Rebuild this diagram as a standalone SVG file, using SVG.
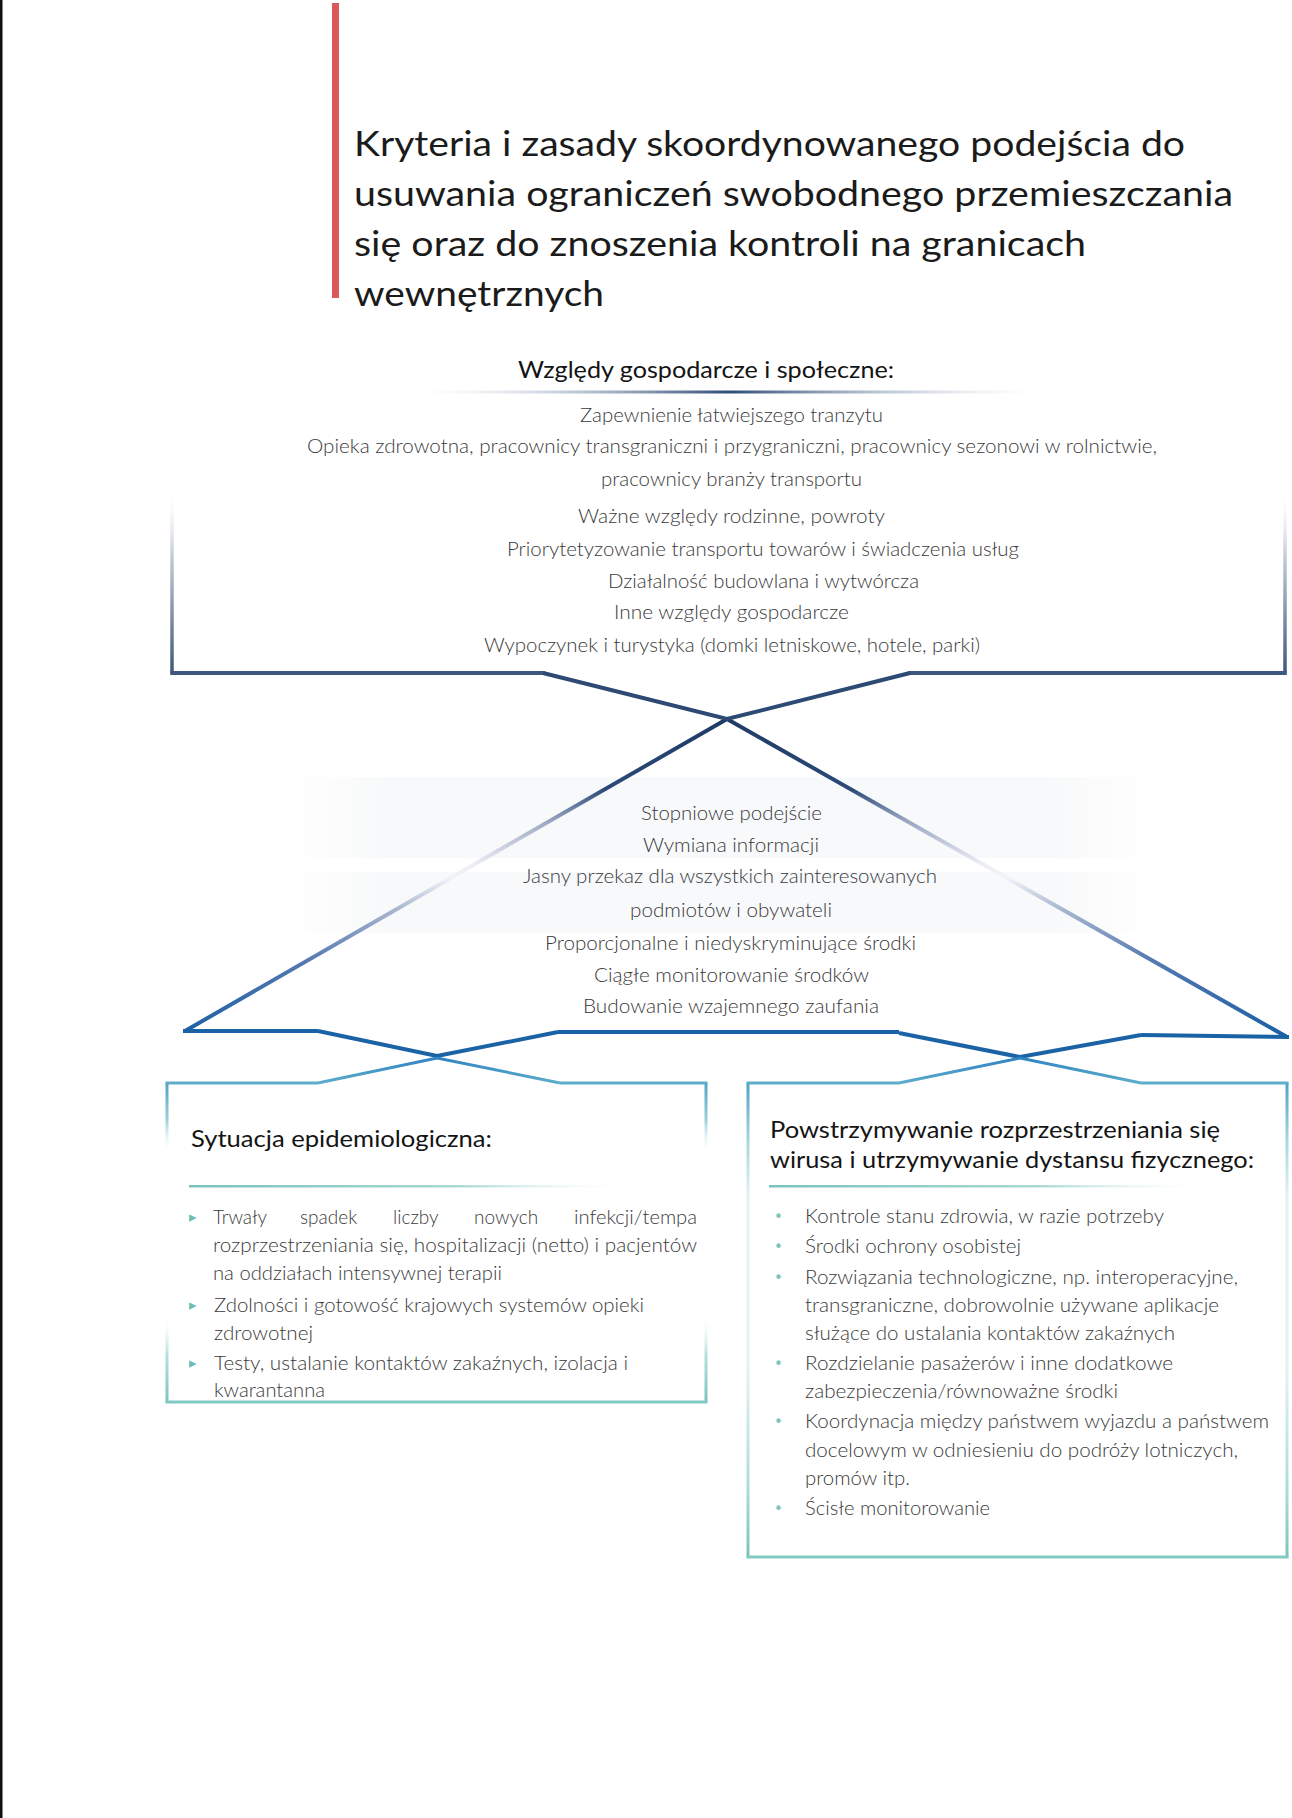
<svg xmlns="http://www.w3.org/2000/svg" width="1292" height="1818" viewBox="0 0 1292 1818">
<style>
.t{font-family:Lato,"Open Sans","Liberation Sans",sans-serif;}
.title{font-size:34px;fill:#1b1b1b;font-weight:400;}
.hd{font-size:23px;fill:#141414;font-weight:400;}
.bd{font-size:19px;fill:#3a3a3a;font-weight:300;}
.bl{font-size:19.5px;fill:#3a3a3a;font-weight:300;}
.tri{font-family:"DejaVu Sans",sans-serif;font-size:15px;fill:#6dbdb5;}
.dot{font-family:"DejaVu Sans",sans-serif;font-size:15px;fill:#7cc6bd;}
.o{fill:none;stroke-linejoin:miter;stroke-linecap:butt;}
</style>
<defs>
<linearGradient id="gTopSide" gradientUnits="userSpaceOnUse" x1="0" y1="486" x2="0" y2="674">
<stop offset="0" stop-color="#ffffff" stop-opacity="0"/>
<stop offset="0.35" stop-color="#c9d0dc"/>
<stop offset="1" stop-color="#3e5578"/>
</linearGradient>
<linearGradient id="gHead" gradientUnits="userSpaceOnUse" x1="424" y1="0" x2="1035" y2="0">
<stop offset="0" stop-color="#c8d0dc" stop-opacity="0"/>
<stop offset="0.5" stop-color="#2f4c77"/>
<stop offset="1" stop-color="#c8d0dc" stop-opacity="0"/>
</linearGradient>
<linearGradient id="gSlope" gradientUnits="userSpaceOnUse" x1="0" y1="719" x2="0" y2="1037">
<stop offset="0" stop-color="#1e3b66"/>
<stop offset="0.22" stop-color="#2c4a77"/>
<stop offset="0.32" stop-color="#9aa6c2"/>
<stop offset="0.46" stop-color="#eceff5"/>
<stop offset="0.5" stop-color="#f1f3f7"/>
<stop offset="0.6" stop-color="#a7b6cf"/>
<stop offset="0.76" stop-color="#5579b0"/>
<stop offset="1" stop-color="#1a5fa5"/>
</linearGradient>
<linearGradient id="gLowL" gradientUnits="userSpaceOnUse" x1="0" y1="1083" x2="0" y2="1403">
<stop offset="0" stop-color="#4fa3c6"/>
<stop offset="0.12" stop-color="#9fd2dc"/>
<stop offset="0.22" stop-color="#ffffff" stop-opacity="0"/>
<stop offset="0.72" stop-color="#ffffff" stop-opacity="0"/>
<stop offset="0.85" stop-color="#b4e0dc"/>
<stop offset="1" stop-color="#78c5be"/>
</linearGradient>
<linearGradient id="gLowR" gradientUnits="userSpaceOnUse" x1="0" y1="1083" x2="0" y2="1558">
<stop offset="0" stop-color="#4fa3c6"/>
<stop offset="0.12" stop-color="#a6d5de"/>
<stop offset="0.24" stop-color="#e4f2f3"/>
<stop offset="0.6" stop-color="#e4f2f3"/>
<stop offset="0.85" stop-color="#aedcd8"/>
<stop offset="1" stop-color="#78c5be"/>
</linearGradient>
<linearGradient id="gUnderL" gradientUnits="userSpaceOnUse" x1="189" y1="0" x2="638" y2="0">
<stop offset="0" stop-color="#78c3bd"/>
<stop offset="0.6" stop-color="#a9d9d5"/>
<stop offset="1" stop-color="#ffffff" stop-opacity="0"/>
</linearGradient>
<linearGradient id="gUnderR" gradientUnits="userSpaceOnUse" x1="769" y1="0" x2="1216" y2="0">
<stop offset="0" stop-color="#78c3bd"/>
<stop offset="0.6" stop-color="#a9d9d5"/>
<stop offset="1" stop-color="#ffffff" stop-opacity="0"/>
</linearGradient>
<linearGradient id="gBand" gradientUnits="userSpaceOnUse" x1="283" y1="0" x2="1158" y2="0">
<stop offset="0" stop-color="#f8f9fa" stop-opacity="0"/>
<stop offset="0.12" stop-color="#f8f9fa"/>
<stop offset="0.88" stop-color="#f8f9fa"/>
<stop offset="1" stop-color="#f8f9fa" stop-opacity="0"/>
</linearGradient>
<linearGradient id="gPeak" gradientUnits="userSpaceOnUse" x1="0" y1="1057" x2="0" y2="1084">
<stop offset="0" stop-color="#2f82c2"/>
<stop offset="1" stop-color="#5eaecb"/>
</linearGradient>
</defs>

<rect x="0" y="0" width="1292" height="1818" fill="#ffffff"/>
<rect x="0" y="0" width="2.5" height="1818" fill="#111111"/>

<g id="title">
<rect x="332" y="3" width="7" height="295" fill="#da5a5c"/>
<text class="t title" x="354" y="156" textLength="831" lengthAdjust="spacingAndGlyphs">Kryteria i zasady skoordynowanego podejścia do</text>
<text class="t title" x="354" y="206" textLength="879" lengthAdjust="spacingAndGlyphs">usuwania ograniczeń swobodnego przemieszczania</text>
<text class="t title" x="354" y="256" textLength="732" lengthAdjust="spacingAndGlyphs">się oraz do znoszenia kontroli na granicach</text>
<text class="t title" x="354" y="306" textLength="250" lengthAdjust="spacingAndGlyphs">wewnętrznych</text>
</g>

<g id="box-economic">
<path class="o" d="M172,486 V673" stroke="url(#gTopSide)" stroke-width="3.5"/>
<path class="o" d="M1285,486 V673" stroke="url(#gTopSide)" stroke-width="3.5"/>
<path class="o" d="M170.25,673 H545 M908,673 H1286.75" stroke="#3d5780" stroke-width="4"/>
<text class="t hd" x="518" y="378" textLength="376" lengthAdjust="spacingAndGlyphs">Względy gospodarcze i społeczne:</text>
<rect x="424" y="390.5" width="611" height="3" fill="url(#gHead)"/>
<text class="t bd" x="580" y="422" textLength="303" lengthAdjust="spacingAndGlyphs">Zapewnienie łatwiejszego tranzytu</text>
<text class="t bd" x="307" y="453" textLength="850" lengthAdjust="spacingAndGlyphs">Opieka zdrowotna, pracownicy transgraniczni i przygraniczni, pracownicy sezonowi w rolnictwie,</text>
<text class="t bd" x="601" y="486" textLength="261" lengthAdjust="spacingAndGlyphs">pracownicy branży transportu</text>
<text class="t bd" x="578" y="523" textLength="307" lengthAdjust="spacingAndGlyphs">Ważne względy rodzinne, powroty</text>
<text class="t bd" x="507" y="556" textLength="512" lengthAdjust="spacingAndGlyphs">Priorytetyzowanie transportu towarów i świadczenia usług</text>
<text class="t bd" x="608" y="588" textLength="311" lengthAdjust="spacingAndGlyphs">Działalność budowlana i wytwórcza</text>
<text class="t bd" x="614" y="619" textLength="235" lengthAdjust="spacingAndGlyphs">Inne względy gospodarcze</text>
<text class="t bd" x="484" y="652" textLength="496" lengthAdjust="spacingAndGlyphs">Wypoczynek i turystyka (domki letniskowe, hotele, parki)</text>
</g>

<g id="box-principles">
<rect x="283" y="777" width="875" height="81" fill="url(#gBand)"/>
<rect x="283" y="872" width="875" height="61" fill="url(#gBand)"/>
<path class="o" d="M727,719 L185,1031 M727,719 L1287,1037" stroke="url(#gSlope)" stroke-width="4"/>
<path class="o" d="M183,1031 H318 M558,1032 H899 M1141,1035 L1289,1037" stroke="#1a62a6" stroke-width="4"/>
<text class="t bl" x="641" y="820" textLength="181" lengthAdjust="spacingAndGlyphs">Stopniowe podejście</text>
<text class="t bl" x="643" y="852" textLength="176" lengthAdjust="spacingAndGlyphs">Wymiana informacji</text>
<text class="t bl" x="523" y="883" textLength="414" lengthAdjust="spacingAndGlyphs">Jasny przekaz dla wszystkich zainteresowanych</text>
<text class="t bl" x="630" y="917" textLength="202" lengthAdjust="spacingAndGlyphs">podmiotów i obywateli</text>
<text class="t bl" x="545" y="950" textLength="371" lengthAdjust="spacingAndGlyphs">Proporcjonalne i niedyskryminujące środki</text>
<text class="t bl" x="594" y="982" textLength="275" lengthAdjust="spacingAndGlyphs">Ciągłe monitorowanie środków</text>
<text class="t bl" x="583" y="1013" textLength="296" lengthAdjust="spacingAndGlyphs">Budowanie wzajemnego zaufania</text>
</g>

<g id="box-epidemiological">
<path class="o" d="M167,1083 V1402" stroke="url(#gLowL)" stroke-width="3"/>
<path class="o" d="M706,1083 V1402" stroke="url(#gLowL)" stroke-width="3"/>
<path class="o" d="M165.5,1083 H318 M560,1083 H707.5" stroke="#5eaecb" stroke-width="3"/>
<path class="o" d="M165.5,1402 H707.5" stroke="#80cac3" stroke-width="3"/>
<text class="t hd" x="191" y="1147" textLength="301" lengthAdjust="spacingAndGlyphs">Sytuacja epidemiologiczna:</text>
<rect x="189" y="1185" width="449" height="2.5" fill="url(#gUnderL)"/>
<text class="tri" x="189" y="1222">▸</text>
<text class="t bd" y="1224"><tspan x="213">Trwały</tspan><tspan x="300">spadek</tspan><tspan x="393">liczby</tspan><tspan x="474">nowych</tspan></text>
<text class="t bd" x="574" y="1224" textLength="123" lengthAdjust="spacingAndGlyphs">infekcji/tempa</text>
<text class="t bd" x="213" y="1252" textLength="484" lengthAdjust="spacingAndGlyphs">rozprzestrzeniania się, hospitalizacji (netto) i pacjentów</text>
<text class="t bd" x="213" y="1280" textLength="289" lengthAdjust="spacingAndGlyphs">na oddziałach intensywnej terapii</text>
<text class="tri" x="189" y="1310">▸</text>
<text class="t bd" x="214" y="1312" textLength="430" lengthAdjust="spacingAndGlyphs">Zdolności i gotowość krajowych systemów opieki</text>
<text class="t bd" x="214" y="1340" textLength="99" lengthAdjust="spacingAndGlyphs">zdrowotnej</text>
<text class="tri" x="189" y="1368">▸</text>
<text class="t bd" x="214" y="1370" textLength="414" lengthAdjust="spacingAndGlyphs">Testy, ustalanie kontaktów zakaźnych, izolacja i</text>
<text class="t bd" x="214" y="1397" textLength="111" lengthAdjust="spacingAndGlyphs">kwarantanna</text>
</g>

<g id="box-containment">
<path class="o" d="M748,1083 V1557" stroke="url(#gLowR)" stroke-width="3"/>
<path class="o" d="M1287,1083 V1557" stroke="url(#gLowR)" stroke-width="3"/>
<path class="o" d="M746.5,1083 H899 M1141,1083 H1288.5" stroke="#5eaecb" stroke-width="3"/>
<path class="o" d="M746.5,1557 H1288.5" stroke="#80cac3" stroke-width="3"/>
<text class="t hd" x="770" y="1138" textLength="450" lengthAdjust="spacingAndGlyphs">Powstrzymywanie rozprzestrzeniania się</text>
<text class="t hd" x="770" y="1168" textLength="484" lengthAdjust="spacingAndGlyphs">wirusa i utrzymywanie dystansu fizycznego:</text>
<rect x="769" y="1185" width="447" height="2.5" fill="url(#gUnderR)"/>
<text class="dot" x="774" y="1222">•</text>
<text class="t bd" x="805" y="1223" textLength="359" lengthAdjust="spacingAndGlyphs">Kontrole stanu zdrowia, w razie potrzeby</text>
<text class="dot" x="774" y="1252">•</text>
<text class="t bd" x="805" y="1253" textLength="216" lengthAdjust="spacingAndGlyphs">Środki ochrony osobistej</text>
<text class="dot" x="774" y="1283">•</text>
<text class="t bd" x="805" y="1284" textLength="433" lengthAdjust="spacingAndGlyphs">Rozwiązania technologiczne, np. interoperacyjne,</text>
<text class="t bd" x="805" y="1312" textLength="414" lengthAdjust="spacingAndGlyphs">transgraniczne, dobrowolnie używane aplikacje</text>
<text class="t bd" x="805" y="1340" textLength="370" lengthAdjust="spacingAndGlyphs">służące do ustalania kontaktów zakaźnych</text>
<text class="dot" x="774" y="1369">•</text>
<text class="t bd" x="805" y="1370" textLength="368" lengthAdjust="spacingAndGlyphs">Rozdzielanie pasażerów i inne dodatkowe</text>
<text class="t bd" x="805" y="1398" textLength="313" lengthAdjust="spacingAndGlyphs">zabezpieczenia/równoważne środki</text>
<text class="dot" x="774" y="1427">•</text>
<text class="t bd" x="805" y="1428" textLength="464" lengthAdjust="spacingAndGlyphs">Koordynacja między państwem wyjazdu a państwem</text>
<text class="t bd" x="805" y="1457" textLength="433" lengthAdjust="spacingAndGlyphs">docelowym w odniesieniu do podróży lotniczych,</text>
<text class="t bd" x="805" y="1485" textLength="105" lengthAdjust="spacingAndGlyphs">promów itp.</text>
<text class="dot" x="774" y="1514">•</text>
<text class="t bd" x="805" y="1515" textLength="185" lengthAdjust="spacingAndGlyphs">Ścisłe monitorowanie</text>
</g>

<g id="connectors">
<path class="o" d="M543,673 L727,719 L910,673" stroke="#2c4a74" stroke-width="4" stroke-linejoin="miter"/>
<path class="o" d="M318,1031 L437,1056 L558,1032" stroke="#1c63a6" stroke-width="4"/>
<path class="o" d="M899,1033 L1020,1057 L1141,1035" stroke="#1c63a6" stroke-width="4"/>
<path class="o" d="M318,1083 L437,1058 L560,1083" stroke="url(#gPeak)" stroke-width="3"/>
<path class="o" d="M899,1083 L1020,1058 L1141,1083" stroke="url(#gPeak)" stroke-width="3"/>
</g>
</svg>
